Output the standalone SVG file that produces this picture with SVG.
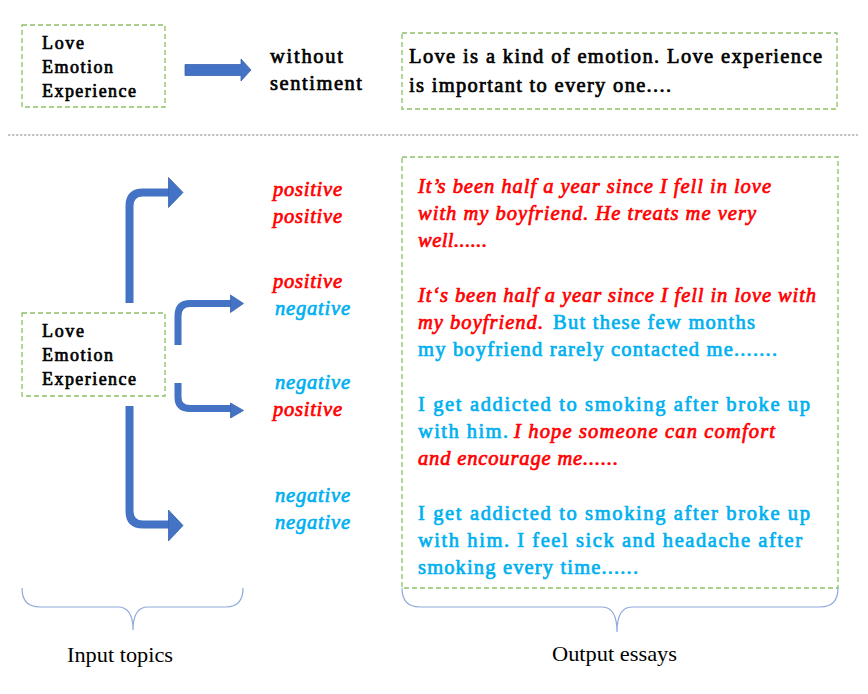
<svg xmlns="http://www.w3.org/2000/svg" width="868" height="694" viewBox="0 0 868 694">
<style>
.box{fill:none;stroke:#8cc065;stroke-width:1.3;stroke-dasharray:5 3}
.t{font-family:"Liberation Serif","Times New Roman",serif;font-weight:400;fill:#000;stroke:#000;stroke-width:0.7;stroke-linejoin:round}
.in{font-size:18px}
.es{font-size:20.5px}
.r{fill:#ff0000;stroke:#ff0000;font-style:italic}
.b{fill:#00b0f0;stroke:#00b0f0;font-style:normal}
.bi{fill:#00b0f0;stroke:#00b0f0;font-style:italic}
.sh{fill:none;stroke:#4472c4;stroke-linecap:butt;stroke-linejoin:round}
.hd{fill:#4472c4;stroke:#3a63ad;stroke-width:0.8}
.br{fill:none;stroke:#8faadc;stroke-width:1.2}
.cap{font-family:"Liberation Serif","Times New Roman",serif;font-size:22px;fill:#000}
</style>
<rect width="868" height="694" fill="#fff"/>

<g id="topic-top">
<rect class="box" x="22" y="25" width="143" height="82"/>
<text class="t in" x="42" y="49" textLength="42" lengthAdjust="spacing">Love</text>
<text class="t in" x="42" y="73" textLength="71" lengthAdjust="spacing">Emotion</text>
<text class="t in" x="42" y="97" textLength="94" lengthAdjust="spacing">Experience</text>
</g>

<g id="label-without">
<text class="t es" x="270" y="63" textLength="73" lengthAdjust="spacing">without</text>
<text class="t es" x="270" y="90" textLength="92" lengthAdjust="spacing">sentiment</text>
</g>

<g id="essay-top">
<rect class="box" x="402" y="33" width="435" height="76"/>
<text class="t es" x="409" y="63" textLength="413" lengthAdjust="spacing">Love is a kind of emotion. Love experience</text>
<text class="t es" x="409" y="92" textLength="262" lengthAdjust="spacing">is important to every one....</text>
</g>

<line x1="8" y1="135" x2="858" y2="135" stroke="#8c8c8c" stroke-width="1.2" stroke-dasharray="2.5 1.5"/>

<g id="topic-bottom">
<rect class="box" x="22" y="313" width="143" height="83"/>
<text class="t in" x="42" y="337" textLength="42" lengthAdjust="spacing">Love</text>
<text class="t in" x="42" y="361" textLength="71" lengthAdjust="spacing">Emotion</text>
<text class="t in" x="42" y="385" textLength="94" lengthAdjust="spacing">Experience</text>
</g>

<g id="labels">
<text class="t es r" x="273" y="196" textLength="69" lengthAdjust="spacing">positive</text>
<text class="t es r" x="273" y="223" textLength="69" lengthAdjust="spacing">positive</text>
<text class="t es r" x="273" y="288" textLength="69" lengthAdjust="spacing">positive</text>
<text class="t es bi" x="275" y="315" textLength="75" lengthAdjust="spacing">negative</text>
<text class="t es bi" x="275" y="389" textLength="75" lengthAdjust="spacing">negative</text>
<text class="t es r" x="273" y="416" textLength="69" lengthAdjust="spacing">positive</text>
<text class="t es bi" x="275" y="502" textLength="75" lengthAdjust="spacing">negative</text>
<text class="t es bi" x="275" y="529" textLength="75" lengthAdjust="spacing">negative</text>
</g>

<g id="essays">
<rect class="box" x="402" y="157" width="436" height="431"/>
<text class="t es r" x="418" y="193" textLength="353" lengthAdjust="spacing">It’s been half a year since I fell in love</text>
<text class="t es r" x="418" y="220" textLength="338" lengthAdjust="spacing">with my boyfriend. He treats me very</text>
<text class="t es r" x="418" y="247" textLength="69" lengthAdjust="spacing">well......</text>
<text class="t es r" x="418" y="302" textLength="398" lengthAdjust="spacing">It‘s been half a year since I fell in love with</text>
<text class="t es r" x="418" y="329" textLength="125" lengthAdjust="spacing">my boyfriend.</text>
<text class="t es b" x="553" y="329" textLength="202" lengthAdjust="spacing">But these few months</text>
<text class="t es b" x="418" y="356" textLength="359" lengthAdjust="spacing">my boyfriend rarely contacted me.......</text>
<text class="t es b" x="418" y="411" textLength="392" lengthAdjust="spacing">I get addicted to smoking after broke up</text>
<text class="t es b" x="418" y="438" textLength="90" lengthAdjust="spacing">with him.</text>
<text class="t es r" x="514" y="438" textLength="261" lengthAdjust="spacing">I hope someone can comfort</text>
<text class="t es r" x="418" y="465" textLength="200" lengthAdjust="spacing">and encourage me......</text>
<text class="t es b" x="418" y="520" textLength="392" lengthAdjust="spacing">I get addicted to smoking after broke up</text>
<text class="t es b" x="418" y="547" textLength="384" lengthAdjust="spacing">with him. I feel sick and headache after</text>
<text class="t es b" x="418" y="574" textLength="220" lengthAdjust="spacing">smoking every time......</text>
</g>

<g id="connectors">
<path class="hd" d="M185,64.5 H241 V59 L251,70 L241,81 V75.5 H185 Z"/>
<path class="sh" stroke-width="8" d="M129.5,303 V206 Q129.5,192.5 143,192.5 H169"/>
<path class="hd" d="M168.5,177.5 L183,192.5 L168.5,207.5 Z"/>
<path class="sh" stroke-width="7" d="M178,345 V316 Q178,303.5 190,303.5 H231"/>
<path class="hd" d="M230.5,295 L243.5,303.5 L230.5,312.5 Z"/>
<path class="sh" stroke-width="7" d="M178,383 V397 Q178,408.5 190,408.5 H231"/>
<path class="hd" d="M230.5,403 L243.5,410.5 L230.5,418 Z"/>
<path class="sh" stroke-width="8" d="M129.5,406 V511 Q129.5,524.5 143,524.5 H169"/>
<path class="hd" d="M168.5,510 L183,525.5 L168.5,541 Z"/>
</g>

<g id="brace-input">
<path class="br" d="M22,588 Q22,607 40,607 H118 Q133,607 133,630 Q133,607 148,607 H226 Q243,607 243,588"/>
<text class="cap" x="67" y="662" textLength="106" lengthAdjust="spacingAndGlyphs">Input topics</text>
</g>
<g id="brace-output">
<path class="br" d="M402,588 Q402,607 420,607 H602 Q617,607 617,632 Q617,607 632,607 H820 Q838,607 838,588"/>
<text class="cap" x="552" y="661" textLength="125" lengthAdjust="spacingAndGlyphs">Output essays</text>
</g>
</svg>
